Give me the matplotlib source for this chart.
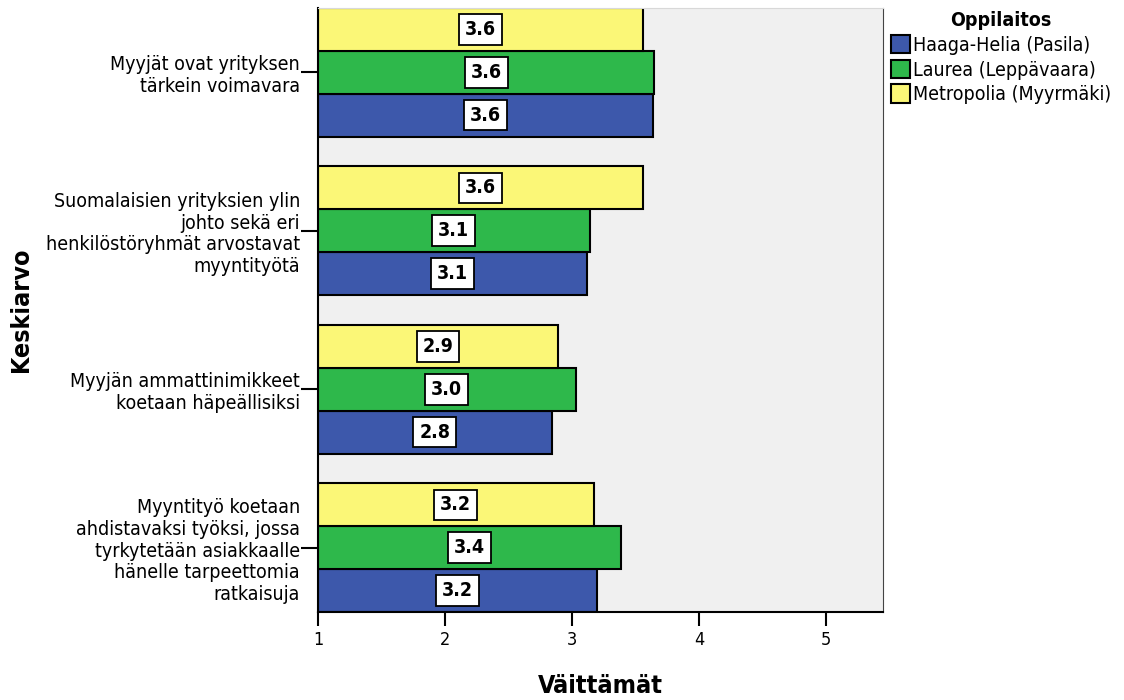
import matplotlib
matplotlib.use("Agg")
import matplotlib.pyplot as plt
import numpy as np

# statements, top to bottom
statements = [
    "Myyjät ovat yrityksen\ntärkein voimavara",
    "Suomalaisien yrityksien ylin\njohto sekä eri\nhenkilöstöryhmät arvostavat\nmyyntityötä",
    "Myyjän ammattinimikkeet\nkoetaan häpeällisiksi",
    "Myyntityö koetaan\nahdistavaksi työksi, jossa\ntyrkytetään asiakkaalle\nhänelle tarpeettomia\nratkaisuja",
]
schools = ["Haaga-Helia (Pasila)", "Laurea (Leppävaara)", "Metropolia (Myyrmäki)"]
haaga = [3.64, 3.12, 2.84, 3.20]
laurea = [3.65, 3.14, 3.03, 3.39]
metropolia = [3.56, 3.56, 2.89, 3.17]
colors = ["#3d58ab", "#2eb84b", "#fbf777"]

plt.rcParams["font.family"] = ["DejaVu Sans"]
plt.rcParams["font.stretch"] = "condensed"

fig = plt.figure(figsize=(11.24, 7), dpi=100)
ax = fig.add_axes([0.2829, 0.1257, 0.5027, 0.8629])
ax.set_facecolor("#f0f0f0")

h = 43 / 159.0
pos = np.arange(len(statements))
series = [(haaga, h), (laurea, 0.0), (metropolia, -h)]
bars = []
for (vals, off), c, name in zip(series, colors, schools):
    b = ax.barh(pos + off, np.array(vals) - 1, left=1, height=h, color=c,
                edgecolor="black", linewidth=1.5, label=name)
    bars.append(b)
    for y, v in zip(pos + off, vals):
        ax.text((1 + v) / 2, y, "%.1f" % v, ha="center", va="center",
                fontsize=14, fontweight="bold",
                bbox=dict(boxstyle="square,pad=0.3", fc="white", ec="black", lw=1.3))

ax.set_ylim(3 + 1.5 * h, -1.5 * h)
ax.set_xlim(1, 5.45)
ax.set_yticks(pos)
ax.set_yticklabels(statements, fontsize=14, linespacing=1.18, ha="right")
ax.set_xticks([1, 2, 3, 4, 5])
ax.tick_params(axis="x", labelsize=13, length=10, width=1.5, direction="out", pad=4)
ax.tick_params(axis="y", length=12, width=1.5, direction="out", pad=1)

for s in ["left", "bottom"]:
    ax.spines[s].set_linewidth(1.5)
ax.spines["right"].set_color("#444444")
ax.spines["top"].set_color("#d8d8d8")

ax.set_xlabel("Väittämät", fontsize=18, fontweight="bold", labelpad=18)
ax.set_ylabel("Keskiarvo", fontsize=18, fontweight="bold")
ax.yaxis.set_label_coords(-0.505, 0.5)

handles = [bars[0], bars[1], bars[2]]
leg = fig.legend(handles, schools, loc="upper left", bbox_to_anchor=(0.789, 0.99),
                 title="Oppilaitos", fontsize=14, title_fontproperties={"weight": "bold", "size": 14},
                 frameon=False, handlelength=1.0, handleheight=1.1, handletextpad=0.15,
                 labelspacing=0.25, borderaxespad=0, borderpad=0.2)

fig.savefig("out.png", dpi=100)
